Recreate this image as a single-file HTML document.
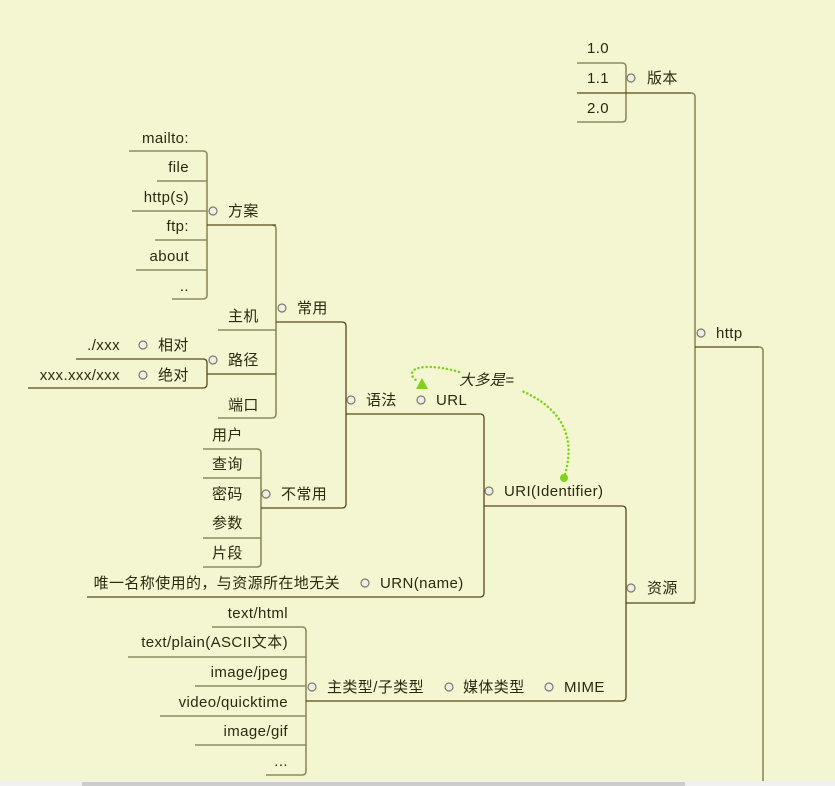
<!DOCTYPE html>
<html><head><meta charset="utf-8"><style>
html,body{margin:0;padding:0;background:#f4f6d2;}
svg{display:block}
text{font-family:"Liberation Sans","Noto Sans CJK SC",sans-serif;font-size:15px;letter-spacing:0.4px;fill:#2a2a10}
.d{stroke:#57491a;stroke-width:1.3;fill:none}
.l{stroke:#8e8a5c;stroke-width:1.6;fill:none}
.c{fill:#eeeee6;stroke:#7d7a68;stroke-width:1.2}
</style></head><body>
<svg width="835" height="786" viewBox="0 0 835 786">
<path class="l" d="M577,63 H622 Q626,63 626,67 V118 Q626,122 622,122 H577"/>
<path class="l" d="M691,93 Q695,93 695,97 V599 Q695,603 691,603"/>
<path class="l" d="M759,347 Q763,347 763,351 V786"/>
<path class="l" d="M129,151 H203 Q207,151 207,155 V295 Q207,299 203,299 H172"/>
<path class="l" d="M157,181 H207 M132,211 H207 M155,240 H207 M136,270 H207"/>
<path class="l" d="M272,225 Q276,225 276,229 V414 Q276,418 272,418 H218"/>
<path class="l" d="M218,330 H276"/>
<path class="l" d="M203,449 H257 Q261,449 261,453 V563 Q261,567 257,567 H203"/>
<path class="l" d="M203,478 H261 M203,538 H261"/>
<path class="l" d="M212,627 H302 Q306,627 306,631 V771 Q306,775 302,775 H266"/>
<path class="l" d="M128,657 H306 M195,686 H306 M160,716 H306 M195,745 H306"/>
<path class="d" d="M577,93 H691"/>
<path class="d" d="M695,347 H759"/>
<path class="d" d="M626,603 H695"/>
<path class="d" d="M484,506 H622 Q626,506 626,510 V697 Q626,701 622,701 H306"/>
<path class="d" d="M346,414 H480 Q484,414 484,418 V593 Q484,597 480,597 H87"/>
<path class="d" d="M276,322 H342 Q346,322 346,326 V504 Q346,508 342,508 H261"/>
<path class="d" d="M207,225 H276"/>
<path class="d" d="M207,374 H276"/>
<path class="d" d="M76,359 H203 Q207,359 207,363 V384 Q207,388 203,388 H28"/>
<g>
<circle class="c" cx="631" cy="78" r="4"/><circle class="c" cx="701" cy="333" r="4"/>
<circle class="c" cx="631" cy="588" r="4"/><circle class="c" cx="489" cy="491" r="4"/>
<circle class="c" cx="421" cy="400" r="4"/><circle class="c" cx="351" cy="400" r="4"/>
<circle class="c" cx="282" cy="308" r="4"/><circle class="c" cx="213" cy="211" r="4"/>
<circle class="c" cx="213" cy="360" r="4"/><circle class="c" cx="143" cy="345" r="4"/>
<circle class="c" cx="143" cy="375" r="4"/><circle class="c" cx="266" cy="494" r="4"/>
<circle class="c" cx="365" cy="583" r="4"/><circle class="c" cx="549" cy="687" r="4"/>
<circle class="c" cx="449" cy="687" r="4"/><circle class="c" cx="312" cy="687" r="4"/>
</g>
<text x="587" y="53">1.0</text><text x="587" y="83">1.1</text><text x="587" y="113">2.0</text>
<text x="647" y="83">版本</text><text x="716" y="338">http</text>
<text x="647" y="593">资源</text><text x="504" y="496">URI(Identifier)</text>
<text x="436" y="405">URL</text><text x="366" y="405">语法</text>
<text x="297" y="313">常用</text><text x="228" y="216">方案</text>
<text x="189" y="143" text-anchor="end">mailto:</text>
<text x="189" y="172" text-anchor="end">file</text>
<text x="189" y="202" text-anchor="end">http(s)</text>
<text x="189" y="231" text-anchor="end">ftp:</text>
<text x="189" y="261" text-anchor="end">about</text>
<text x="189" y="291" text-anchor="end">..</text>
<text x="228" y="321">主机</text><text x="228" y="365">路径</text><text x="228" y="410">端口</text>
<text x="120" y="350" text-anchor="end">./xxx</text><text x="158" y="350">相对</text>
<text x="120" y="380" text-anchor="end">xxx.xxx/xxx</text><text x="158" y="380">绝对</text>
<text x="281" y="499">不常用</text>
<text x="212" y="440">用户</text><text x="212" y="469">查询</text><text x="212" y="499">密码</text>
<text x="212" y="528">参数</text><text x="212" y="558">片段</text>
<text x="380" y="588">URN(name)</text>
<text x="340" y="588" text-anchor="end">唯一名称使用的，与资源所在地无关</text>
<text x="564" y="692">MIME</text><text x="463" y="692">媒体类型</text><text x="327" y="692">主类型/子类型</text>
<text x="288" y="618" text-anchor="end">text/html</text>
<text x="288" y="647" text-anchor="end">text/plain(ASCII文本)</text>
<text x="288" y="677" text-anchor="end">image/jpeg</text>
<text x="288" y="707" text-anchor="end">video/quicktime</text>
<text x="288" y="736" text-anchor="end">image/gif</text>
<text x="288" y="766" text-anchor="end">...</text>
<path d="M564,478 C576,440 565,410 522,391 M459,372 C440,366 418,365 413,371 C410,375 414,379 416,380" stroke="#7fd21a" stroke-width="2.5" stroke-dasharray="0.1 4" stroke-linecap="round" fill="none"/>
<circle cx="564" cy="478" r="4" fill="#7fd21a"/>
<polygon points="416,389 428,389 422,378" fill="#7fd21a"/>
<text x="459" y="385" style="font-style:italic">大多是=</text>
<rect x="0" y="781" width="835" height="5" fill="#f0f0f0"/>
<rect x="82" y="782" width="603" height="4" fill="#cdcdcd"/>
</svg>
</body></html>
